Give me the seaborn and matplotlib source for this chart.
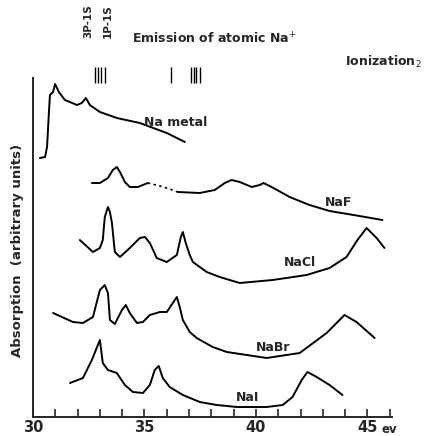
import pandas as pd
import matplotlib
matplotlib.use('Agg')
import matplotlib.pyplot as plt
import seaborn as sns

# --- data (x in eV, y in arbitrary absorption units) ---
na_metal_x = [30.31, 30.54, 30.63, 30.72, 30.76, 30.9, 30.99, 31.16, 31.43, 31.97, 32.19, 32.37, 32.55, 33.0, 33.76, 34.79, 36.0, 36.81]
na_metal_y = [259, 260, 270, 307, 322, 325, 333, 325, 317, 312, 314, 319, 312, 305, 299, 294, 284, 275]

naf_x1 = [32.64, 33.0, 33.36, 33.58, 33.76, 33.9, 34.12, 34.34, 34.7, 35.15]
naf_y1 = [234, 234, 239, 247, 250, 245, 235, 230, 230, 234]
naf_gap_x = [35.15, 35.69, 36.13, 36.49]
naf_gap_y = [234, 231, 228, 225]
naf_x2 = [36.49, 37.48, 38.15, 38.6, 38.91, 39.27, 39.81, 40.17, 40.34, 40.7, 41.51, 42.4, 43.3, 44.64, 45.67]
naf_y2 = [225, 224, 227, 234, 237, 235, 230, 232, 234, 230, 220, 212, 206, 201, 197]

nacl_x = [32.1, 32.69, 33.0, 33.13, 33.22, 33.36, 33.45, 33.54, 33.67, 33.9, 34.34, 34.79, 35.02, 35.24, 35.55,
          36.0, 36.45, 36.63, 36.72, 36.85, 37.03, 37.17, 37.79, 38.37, 39.27, 40.75, 42.27, 43.3, 44.06, 44.55,
          44.96, 45.41, 45.76]
nacl_y = [177, 165, 169, 177, 200, 210, 205, 194, 165, 160, 169, 179, 180, 174, 159,
          155, 162, 180, 185, 174, 162, 155, 145, 140, 134, 137, 142, 149, 160, 177,
          189, 179, 169]

nabr_x = [30.9, 31.79, 32.24, 32.69, 33.0, 33.22, 33.36, 33.45, 33.67, 33.99, 34.16, 34.34, 34.66, 34.93, 35.24,
          35.69, 36.0, 36.27, 36.45, 36.58, 36.72, 37.03, 37.34, 38.06, 38.69, 40.48, 41.96, 43.17, 43.97, 44.51, 45.32]
nabr_y = [104, 95, 94, 100, 127, 132, 124, 97, 93, 107, 112, 104, 94, 95, 102,
          105, 105, 114, 120, 110, 97, 85, 79, 70, 65, 59, 64, 84, 102, 95, 79]

nai_x = [31.66, 32.24, 32.64, 33.0, 33.13, 33.36, 33.76, 34.12, 34.48, 34.93, 35.24, 35.46, 35.64, 35.82, 36.13,
         36.72, 37.48, 38.24, 39.14, 40.48, 41.2, 41.64, 42.05, 42.31, 42.72, 43.3, 43.88]
nai_y = [34, 39, 57, 77, 54, 47, 44, 32, 25, 24, 32, 47, 51, 39, 30,
         22, 15, 12, 10, 10, 12, 20, 37, 45, 40, 32, 22]

# emission lines of atomic Na+ (eV)
emission_lines = [32.8, 32.93, 33.07, 33.24, 36.18, 37.07, 37.2, 37.33, 37.47]

curve_labels = ['Na metal', 'NaF', 'NaCl', 'NaBr', 'NaI']
label_x = [36.4, 43.7, 41.96, 40.75, 39.63]
label_y = [295, 214, 154, 70, 20]

xticks = [30, 35, 40, 45]

# --- style ---
sns.set_style("ticks")
plt.rcParams['font.family'] = ['DejaVu Sans']
plt.rcParams['axes.unicode_minus'] = False

fig = plt.figure(figsize=(4.24, 4.36), dpi=100)
ax = fig.add_axes([33 / 424, 19 / 436, 359 / 424, 339 / 436])

lw = 1.4
for xs, ys in [(na_metal_x, na_metal_y), (naf_x1, naf_y1), (naf_x2, naf_y2),
               (nacl_x, nacl_y), (nabr_x, nabr_y), (nai_x, nai_y)]:
    df = pd.DataFrame({'x': xs, 'y': ys})
    sns.lineplot(data=df, x='x', y='y', sort=False, estimator=None, color='black',
                 linewidth=lw, ax=ax, solid_joinstyle='round', solid_capstyle='round')
df_gap = pd.DataFrame({'x': naf_gap_x, 'y': naf_gap_y})
sns.lineplot(data=df_gap, x='x', y='y', sort=False, estimator=None, color='black',
             linewidth=1.2, linestyle=(0, (1.5, 2)), ax=ax)

for name, lx, ly in zip(curve_labels, label_x, label_y):
    ax.text(lx, ly, name, fontsize=9, fontweight='bold', ha='center', va='center')

# emission line markers
ax.vlines(emission_lines, 334, 350, colors='black', linewidth=1.0, clip_on=False)
ax.text(32.46, 379, '3P-1S', rotation=90, fontsize=7.5, fontweight='bold', ha='center', va='bottom')
ax.text(33.36, 379, '1P-1S', rotation=90, fontsize=7.5, fontweight='bold', ha='center', va='bottom')
ax.text(34.43, 378, 'Emission of atomic Na$^{+}$', fontsize=9, fontweight='bold', ha='left', va='center')
ax.text(43.97, 355, 'Ionization$_{2}$', fontsize=9, fontweight='bold', ha='left', va='center')

ax.set_xlim(30, 46.1)
ax.set_ylim(0, 339)
ax.set_xticks(range(31, 47), minor=True)
ax.set_xticks(xticks)
ax.set_xticklabels([str(t) for t in xticks], fontsize=10.5, fontweight='bold')
ax.tick_params(axis='x', which='both', direction='in', length=6, width=1.2, pad=2)
ax.set_yticks([])
ax.set_xlabel('')
ax.set_ylabel('')
ax.text(46.0, -12, 'ev', fontsize=8.5, fontweight='bold', ha='center', va='center', clip_on=False)
for side in ['top', 'right']:
    ax.spines[side].set_visible(False)
for side in ['left', 'bottom']:
    ax.spines[side].set_linewidth(1.4)

fig.text(18 / 424, 1 - 250 / 436, 'Absorption  (arbitrary units)', rotation=90,
         fontsize=9.5, fontweight='bold', ha='center', va='center')

fig.savefig('out.png', dpi=100)
